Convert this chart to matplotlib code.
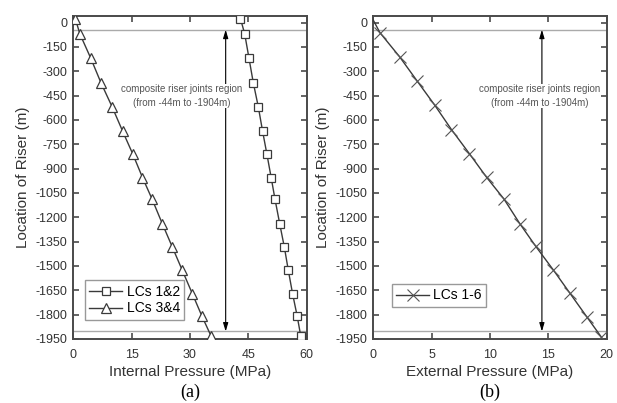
import matplotlib
matplotlib.use("Agg")
import matplotlib.pyplot as plt

plt.rcParams['font.family'] = ['Liberation Sans', 'DejaVu Sans']
plt.rcParams['axes.unicode_minus'] = False

# internal pressure (a)
depth_int = [25, -70, -220, -370, -520, -670, -810, -955, -1090, -1240, -1385, -1525, -1670, -1810, -1930]
p_lc12 = [43.0, 44.1, 45.2, 46.3, 47.6, 48.7, 49.8, 50.9, 51.9, 53.1, 54.3, 55.3, 56.4, 57.6, 58.5]
p_lc34 = [0.5, 1.7, 4.5, 7.1, 10.0, 12.7, 15.3, 17.8, 20.3, 22.9, 25.5, 28.0, 30.6, 33.1, 35.4]

# external pressure (b)
depth_ext = [15, -62, -210, -361, -511, -659, -807, -954, -1087, -1240, -1380, -1524, -1668, -1812, -1940]
p_lc16 = [0.0, 0.57, 2.25, 3.77, 5.29, 6.7, 8.23, 9.72, 11.2, 12.57, 13.94, 15.43, 16.86, 18.29, 19.57]

region_top, region_bot = -44, -1904
region_text = "composite riser joints region\n(from -44m to -1904m)"
y_ticks = list(range(0, -1951, -150))

line_c = '#3a3a3a'
frame_c = '#4a4a4a'

fig = plt.figure(figsize=(6.17, 4.03), dpi=100)
ax1 = fig.add_axes([0.1188, 0.159, 0.378, 0.801])
ax2 = fig.add_axes([0.605, 0.159, 0.378, 0.801])


def style(ax, xmax, xstep, xlabel, tag):
    ax.set_xlim(0, xmax)
    ax.set_ylim(-1950, 40)
    ax.set_xticks(range(0, xmax + 1, xstep))
    ax.set_yticks(y_ticks)
    ax.tick_params(direction='in', top=True, right=True, length=4, width=1.2,
                   color=frame_c, labelsize=9, labelcolor='#333333', pad=4)
    ax.tick_params(axis='x', pad=7)
    for s in ax.spines.values():
        s.set_color(frame_c)
        s.set_linewidth(1.4)
    ax.set_xlabel(xlabel, fontsize=11, color='#333333', labelpad=3)
    ax.set_ylabel("Location of Riser (m)", fontsize=11, color='#333333', labelpad=4)
    ax.axhline(region_top, color='#aaaaaa', lw=1.0, zorder=1)
    ax.axhline(region_bot, color='#aaaaaa', lw=1.0, zorder=1)
    ax.text(0.5, -0.167, tag, transform=ax.transAxes, ha='center', va='center',
            fontsize=13, family='Liberation Serif')


def region_arrow(ax, x, tx):
    ax.annotate('', xy=(x, region_top), xytext=(x, region_bot),
                arrowprops=dict(arrowstyle='<|-|>,head_length=0.5,head_width=0.15',
                                color='black', lw=0.8, shrinkA=0, shrinkB=0), zorder=2)
    ax.text(tx, -453, region_text, ha='center', va='center', fontsize=7,
            color='#555555', linespacing=1.4, zorder=3,
            bbox=dict(facecolor='white', edgecolor='none', pad=0.5))


# (a)
ax1.plot(p_lc12, depth_int, color=line_c, lw=1.0, marker='s', ms=6,
         mfc='white', mec=line_c, mew=0.9, label='LCs 1&2', zorder=4)
ax1.plot(p_lc34, depth_int, color=line_c, lw=1.0, marker='^', ms=7,
         mfc='white', mec=line_c, mew=0.9, label='LCs 3&4', zorder=4)
region_arrow(ax1, 39.2, 27.9)
style(ax1, 60, 15, "Internal Pressure (MPa)", "(a)")
leg = ax1.legend(loc='lower left', bbox_to_anchor=(0.05, 0.06), borderaxespad=0,
                 fontsize=10, handlelength=2.4, fancybox=False, framealpha=1,
                 borderpad=0.3, labelspacing=0.2, handletextpad=0.3)
leg.get_frame().set_edgecolor('#999999')
leg.get_frame().set_linewidth(1.0)

# (b)
ax2.plot(p_lc16, depth_ext, color=line_c, lw=1.0, marker='x', ms=8,
         mec='#555555', mew=0.8, markevery=slice(1, None), label='LCs 1-6', zorder=4)
region_arrow(ax2, 14.46, 14.3)
style(ax2, 20, 5, "External Pressure (MPa)", "(b)")
leg = ax2.legend(loc='lower left', bbox_to_anchor=(0.079, 0.10), borderaxespad=0,
                 fontsize=10, handlelength=2.4, fancybox=False, framealpha=1,
                 borderpad=0.3, labelspacing=0.2, handletextpad=0.3)
leg.get_frame().set_edgecolor('#999999')
leg.get_frame().set_linewidth(1.0)

fig.savefig("out.png", dpi=100)
